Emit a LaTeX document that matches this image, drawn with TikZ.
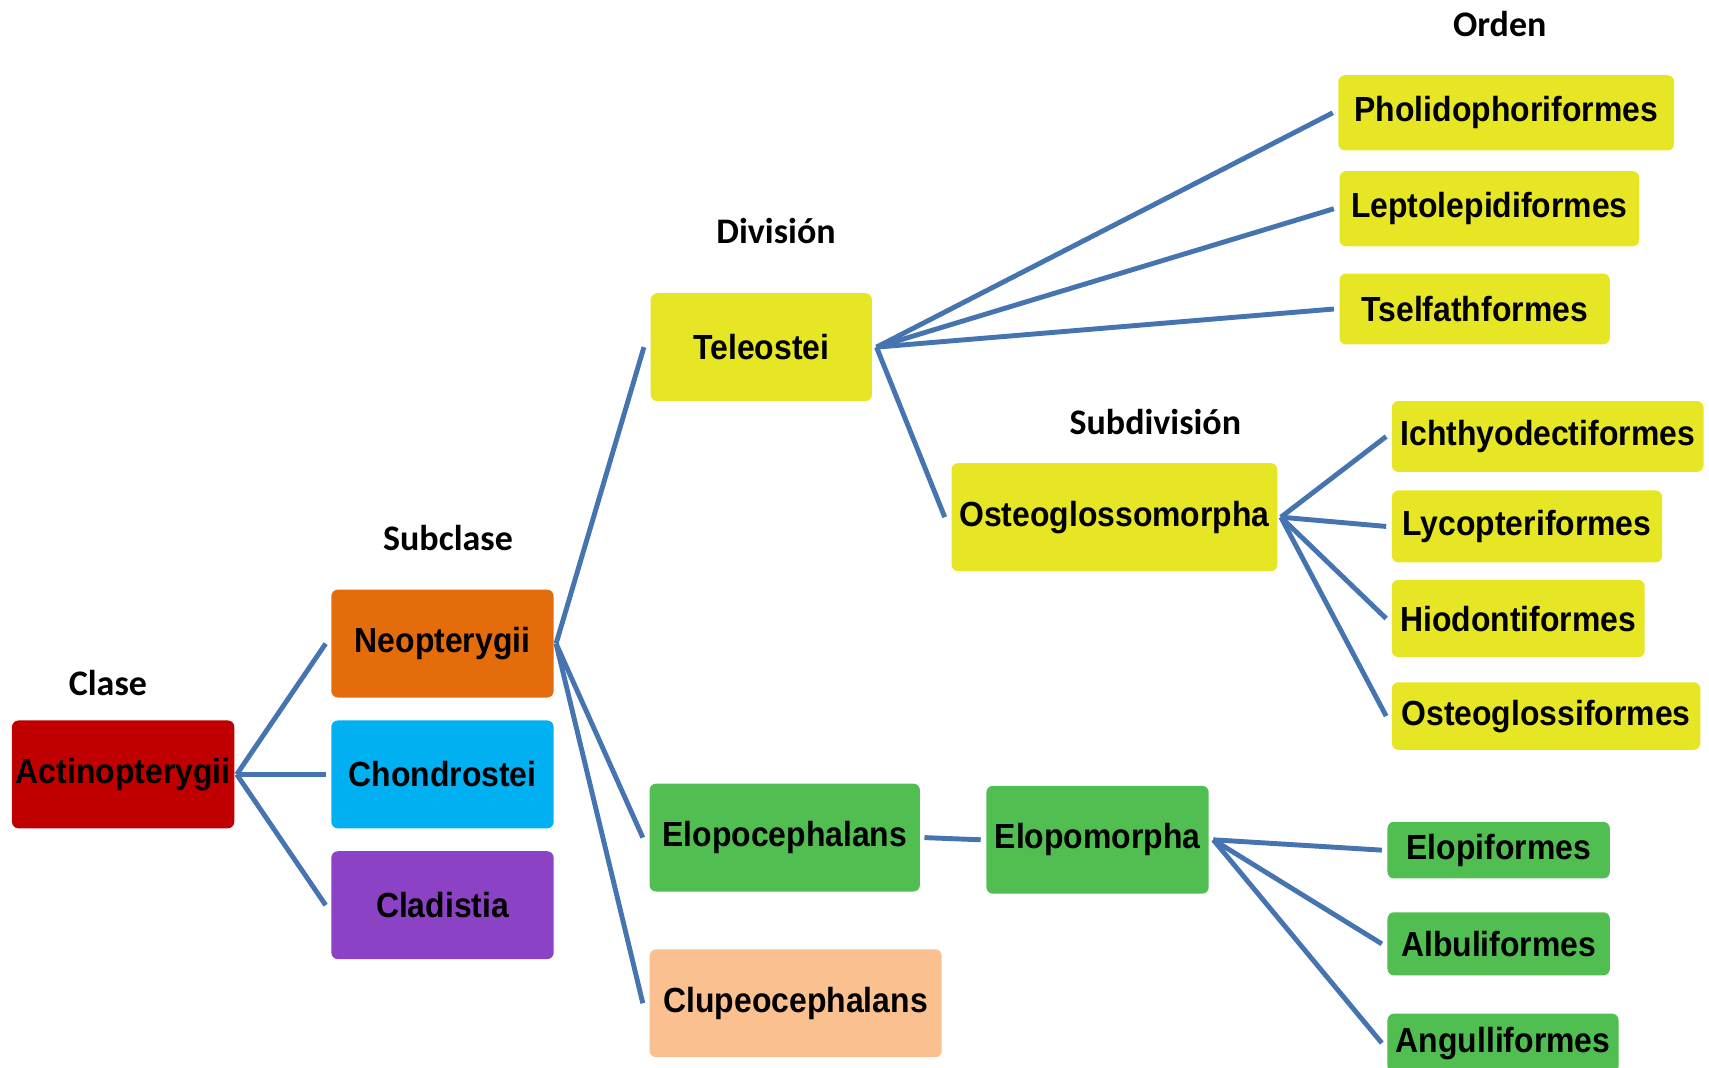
\documentclass[tikz,border=0pt]{standalone}
\usepackage{fontspec}
\newfontfamily\boxfont[FakeStretch=0.915]{Liberation Sans}
\newfontfamily\headfont{Carlito}

\definecolor{clsred}{RGB}{192,0,0}
\definecolor{neoorange}{RGB}{228,108,10}
\definecolor{chocyan}{RGB}{0,176,240}
\definecolor{cladpurple}{RGB}{140,66,196}
\definecolor{teleyellow}{RGB}{230,230,37}
\definecolor{elogreen}{RGB}{80,190,80}
\definecolor{clupeach}{RGB}{250,192,144}
\definecolor{linkblue}{RGB}{70,116,176}

% \taxon{name}{cx}{cy}{width}{height}{colour}{label}
\newcommand\taxon[7]{%
  \node[taxonbox, fill=#6, minimum width=#4pt, minimum height=#5pt] (#1) at (#2,#3) {#7};}

\begin{document}
\begin{tikzpicture}[x=1pt,y=-1pt,
  taxonbox/.style={rounded corners=6pt, inner sep=0pt, text=black,
    font=\boxfont\bfseries\fontsize{32}{38}\selectfont},
  rank/.style={inner sep=0pt, font=\headfont\bfseries\fontsize{33}{40}\selectfont},
  link/.style={draw=linkblue, line width=4.5pt, line join=round}]

\clip (0,0) rectangle (1568,979);
\fill[white] (0,0) rectangle (1568,979);

% rank headings
\node[rank] (hclase) at (99,627) {Clase};
\node[rank] (hsubclase) at (411,494) {Subclase};
\node[rank] (hdivision) at (712,212) {División};
\node[rank] (hsubdiv) at (1060,387) {Subdivisión};
\node[rank] (horden) at (1376,22) {Orden};

% class and subclasses
\taxon{act}{113}{710.5}{204}{99}{clsred}{Actinopterygii}
\taxon{neo}{406}{590.5}{204}{99}{neoorange}{Neopterygii}
\taxon{cho}{406}{710.5}{204}{99}{chocyan}{Chondrostei}
\taxon{cla}{406}{830.5}{204}{99}{cladpurple}{Cladistia}

% divisions and subdivisions
\taxon{tel}{698.5}{318.5}{203}{99}{teleyellow}{Teleostei}
\taxon{ost}{1022.5}{474.5}{299}{99}{teleyellow}{Osteoglossomorpha}
\taxon{elc}{720}{768.5}{248}{99}{elogreen}{Elopocephalans}
\taxon{elm}{1007}{770.5}{204}{99}{elogreen}{Elopomorpha}
\taxon{clu}{730}{920.5}{268}{99}{clupeach}{Clupeocephalans}

% orders
\taxon{pho}{1382}{103.5}{308}{69}{teleyellow}{Pholidophoriformes}
\taxon{lep}{1366.5}{191.5}{275}{69}{teleyellow}{Leptolepidiformes}
\taxon{tse}{1353}{283.5}{248}{65}{teleyellow}{Tselfathformes}
\taxon{ich}{1420}{400.5}{286}{65}{teleyellow}{Ichthyodectiformes}
\taxon{lyc}{1401}{483}{248}{66}{teleyellow}{Lycopteriformes}
\taxon{hio}{1393}{567.5}{232}{71}{teleyellow}{Hiodontiformes}
\taxon{osf}{1418.5}{657}{283}{62}{teleyellow}{Osteoglossiformes}
\taxon{elf}{1375}{780}{204}{52}{elogreen}{Elopiformes}
\taxon{alb}{1375}{866}{204}{58}{elogreen}{Albuliformes}
\taxon{ang}{1379}{957}{212}{54}{elogreen}{Angulliformes}

% connectors
\foreach \child in {neo,cho,cla}
  \draw[link] ([xshift=2pt]act.east) -- ([xshift=-5pt]\child.west);
\foreach \child in {tel,elc,clu}
  \draw[link] ([xshift=2pt]neo.east) -- ([xshift=-6pt]\child.west);
\foreach \child in {pho,lep,tse}
  \draw[link] ([xshift=4pt]tel.east) -- ([xshift=-5pt]\child.west);
\draw[link] ([xshift=4pt]tel.east) -- ([xshift=-6pt]ost.west);
\foreach \child in {ich,lyc,hio,osf}
  \draw[link] ([xshift=3pt]ost.east) -- ([xshift=-5pt]\child.west);
\draw[link] ([xshift=4pt]elc.east) -- ([xshift=-5pt]elm.west);
\foreach \child in {elf,alb,ang}
  \draw[link] ([xshift=4pt]elm.east) -- ([xshift=-5pt]\child.west);
\end{tikzpicture}
\end{document}
